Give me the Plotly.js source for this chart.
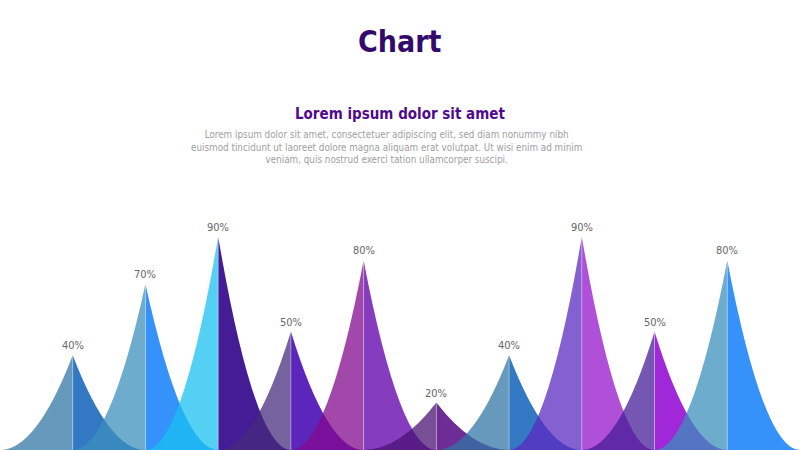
<!DOCTYPE html>
<html>
<head>
<meta charset="utf-8">
<script src="https://cdn.plot.ly/plotly-3.0.1.min.js"></script>
<style>
  html, body { margin: 0; padding: 0; background: #fff; }
  #chart { width: 800px; height: 450px; }
</style>
</head>
<body>
<div id="chart"></div>
<script>
/* spike chart — ten cusped peaks, two-tone halves, percent labels on top */

const values = [40, 70, 90, 50, 80, 20, 40, 90, 50, 80];
const labels = values.map(v => v + "%");

// left halves are see-through (drawn over the previous peak's right half)
const leftColors = [
  "rgb(49,118,164)", "rgb(59,143,188)", "rgb(26,192,242)", "rgb(70,43,124)", "rgb(131,8,141)",
  "rgb(73,16,114)",  "rgb(49,118,164)", "rgb(91,41,191)",  "rgb(69,28,151)", "rgb(59,143,188)",
];
const rightColors = [
  "#3278C3", "#3492FA", "#441C96", "#5C26BC", "#863CBE",
  "#6E2D96", "#3278C3", "#B050D8", "#A028D8", "#3492FA",
];

const FONT = "Tahoma, 'DejaVu Sans Condensed', 'DejaVu Sans', sans-serif";

const shapes = [];
const annotations = [];

values.forEach((v, i) => {
  const c = i + 1; // peak centre on the x axis
  // left half: concave quadratic from base to tip
  shapes.push({
    type: "path", xref: "x", yref: "y", layer: "above",
    path: `M ${c - 1},0 Q ${c - 0.5},0 ${c},${v} L ${c},0 Z`,
    fillcolor: leftColors[i], opacity: 0.74, line: { width: 0 },
  });
  // right half
  shapes.push({
    type: "path", xref: "x", yref: "y", layer: "above",
    path: `M ${c},${v} Q ${c + 0.5},0 ${c + 1},0 L ${c},0 Z`,
    fillcolor: rightColors[i], opacity: 1, line: { width: 0 },
  });
});

// faint seam down the middle of every peak
values.forEach((v, i) => {
  shapes.push({
    type: "line", xref: "x", yref: "y", layer: "above",
    x0: i + 1, x1: i + 1, y0: 0, y1: v,
    line: { color: "rgba(255,255,255,0.35)", width: 1 },
  });
  annotations.push({
    x: i + 1, y: v, xref: "x", yref: "y",
    text: labels[i], showarrow: false, yanchor: "bottom", yshift: 1,
    font: { family: FONT, size: 11, color: "#666666" },
  });
});

annotations.push(
  { xref: "paper", yref: "paper", x: 0.5, y: 1.722, yanchor: "middle", showarrow: false,
    text: "<b>Chart</b>", font: { family: FONT, size: 30, color: "#330A6B" } },
  { xref: "paper", yref: "paper", x: 0.5, y: 1.418, yanchor: "middle", showarrow: false,
    text: "<b>Lorem ipsum dolor sit amet</b>", font: { family: FONT, size: 15, color: "#500A8C" } },
  { xref: "paper", yref: "paper", x: 0.4825, y: 1.278, yanchor: "middle", showarrow: false,
    align: "center",
    text: "Lorem ipsum dolor sit amet, consectetuer adipiscing elit, sed diam nonummy nibh<br>" +
          "euismod tincidunt ut laoreet dolore magna aliquam erat volutpat. Ut wisi enim ad minim<br>" +
          "veniam, quis nostrud exerci tation ullamcorper suscipi.",
    font: { family: FONT, size: 9.8, color: "#A0A0A0" } }
);

Plotly.newPlot("chart", [], {
  width: 800, height: 450,
  margin: { l: 0, r: 0, t: 213, b: 0 },
  paper_bgcolor: "#ffffff", plot_bgcolor: "#ffffff",
  xaxis: { range: [0, values.length + 1], visible: false, fixedrange: true },
  yaxis: { range: [0, 100], visible: false, fixedrange: true },
  showlegend: false,
  shapes: shapes,
  annotations: annotations,
}, { staticPlot: true });
</script>
</body>
</html>
